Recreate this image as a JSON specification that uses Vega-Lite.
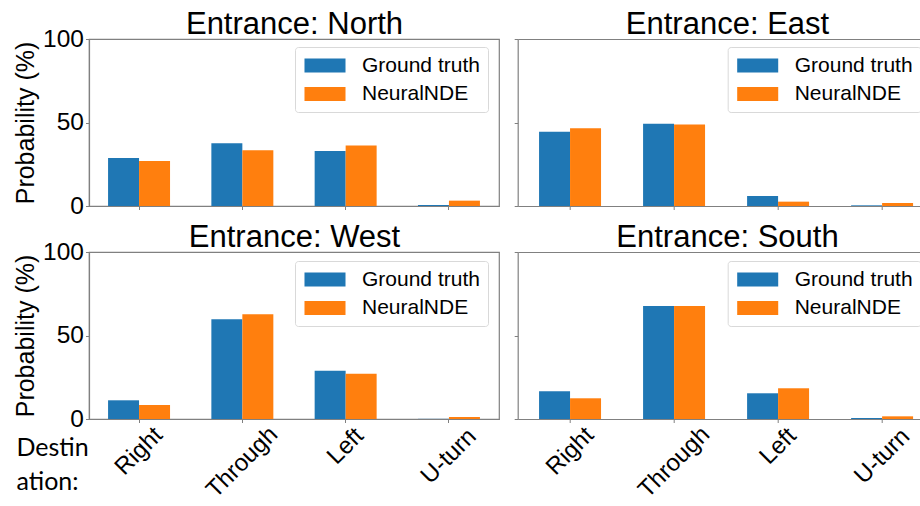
{
  "$schema": "https://vega.github.io/schema/vega-lite/v6.json",
  "padding": {"left": 13, "top": 7, "right": 0, "bottom": 0},
  "background": "white",
  "data": {
    "values": [
      {"entrance": "North", "dest": "Right", "model": "Ground truth", "value": 28.8},
      {"entrance": "North", "dest": "Right", "model": "NeuralNDE", "value": 27.0},
      {"entrance": "North", "dest": "Through", "model": "Ground truth", "value": 37.6},
      {"entrance": "North", "dest": "Through", "model": "NeuralNDE", "value": 33.4},
      {"entrance": "North", "dest": "Left", "model": "Ground truth", "value": 33.0},
      {"entrance": "North", "dest": "Left", "model": "NeuralNDE", "value": 36.2},
      {"entrance": "North", "dest": "U-turn", "model": "Ground truth", "value": 0.6},
      {"entrance": "North", "dest": "U-turn", "model": "NeuralNDE", "value": 3.2},
      {"entrance": "East", "dest": "Right", "model": "Ground truth", "value": 44.4},
      {"entrance": "East", "dest": "Right", "model": "NeuralNDE", "value": 46.6},
      {"entrance": "East", "dest": "Through", "model": "Ground truth", "value": 49.2},
      {"entrance": "East", "dest": "Through", "model": "NeuralNDE", "value": 48.8},
      {"entrance": "East", "dest": "Left", "model": "Ground truth", "value": 6.0},
      {"entrance": "East", "dest": "Left", "model": "NeuralNDE", "value": 2.6},
      {"entrance": "East", "dest": "U-turn", "model": "Ground truth", "value": 0.4},
      {"entrance": "East", "dest": "U-turn", "model": "NeuralNDE", "value": 1.8},
      {"entrance": "West", "dest": "Right", "model": "Ground truth", "value": 11.2},
      {"entrance": "West", "dest": "Right", "model": "NeuralNDE", "value": 8.4},
      {"entrance": "West", "dest": "Through", "model": "Ground truth", "value": 59.7},
      {"entrance": "West", "dest": "Through", "model": "NeuralNDE", "value": 62.7},
      {"entrance": "West", "dest": "Left", "model": "Ground truth", "value": 28.9},
      {"entrance": "West", "dest": "Left", "model": "NeuralNDE", "value": 27.1},
      {"entrance": "West", "dest": "U-turn", "model": "Ground truth", "value": 0.1},
      {"entrance": "West", "dest": "U-turn", "model": "NeuralNDE", "value": 1.2},
      {"entrance": "South", "dest": "Right", "model": "Ground truth", "value": 16.6},
      {"entrance": "South", "dest": "Right", "model": "NeuralNDE", "value": 12.4},
      {"entrance": "South", "dest": "Through", "model": "Ground truth", "value": 67.7},
      {"entrance": "South", "dest": "Through", "model": "NeuralNDE", "value": 67.6},
      {"entrance": "South", "dest": "Left", "model": "Ground truth", "value": 15.4},
      {"entrance": "South", "dest": "Left", "model": "NeuralNDE", "value": 18.4},
      {"entrance": "South", "dest": "U-turn", "model": "Ground truth", "value": 0.6},
      {"entrance": "South", "dest": "U-turn", "model": "NeuralNDE", "value": 1.6}
    ]
  },
  "columns": 2,
  "bounds": "flush",
  "spacing": {"row": 46, "column": 18.7},
  "resolve": {"scale": {"color": "independent"}},
  "concat": [
    {
      "width": 410,
      "height": 167,
      "transform": [{"filter": "datum.entrance == 'North'"}],
      "resolve": {"axis": {"x": "independent"}},
      "layer": [
        {
          "mark": {"type": "bar"},
          "encoding": {
            "x": {
              "field": "dest", "type": "nominal",
              "sort": ["Right", "Through", "Left", "U-turn"],
              "scale": {"paddingInner": 0.4, "paddingOuter": 0.1845},
              "axis": {"labels": false, "title": null}
            },
            "xOffset": {"field": "model", "type": "nominal", "sort": ["Ground truth", "NeuralNDE"]},
            "y": {
              "field": "value", "type": "quantitative",
              "scale": {"domain": [0, 100]},
              "axis": {"values": [0, 50, 100], "title": "Probability (%)"}
            },
            "color": {
              "field": "model", "type": "nominal",
              "scale": {"domain": ["Ground truth", "NeuralNDE"], "range": ["#1f77b4", "#ff7f0e"]},
              "legend": {"orient": "none", "legendX": 206, "legendY": 8}
            }
          }
        },
        {
          "mark": {"type": "bar", "opacity": 0},
          "encoding": {
            "x": {
              "field": "dest", "type": "nominal",
              "sort": ["Right", "Through", "Left", "U-turn"],
              "axis": {"orient": "top", "labels": false, "ticks": false, "title": "Entrance: North", "titleX": 205}
            }
          }
        }
      ]
    },
    {
      "width": 404,
      "height": 167,
      "view": {"stroke": null},
      "transform": [{"filter": "datum.entrance == 'East'"}],
      "resolve": {"axis": {"x": "independent"}},
      "layer": [
        {
          "mark": {"type": "bar"},
          "encoding": {
            "x": {
              "field": "dest", "type": "nominal",
              "sort": ["Right", "Through", "Left", "U-turn"],
              "scale": {"paddingInner": 0.4, "paddingOuter": 0.142, "align": 0.723},
              "axis": {"labels": false, "title": null}
            },
            "xOffset": {"field": "model", "type": "nominal", "sort": ["Ground truth", "NeuralNDE"]},
            "y": {
              "field": "value", "type": "quantitative",
              "scale": {"domain": [0, 100]},
              "axis": {"values": [0, 50, 100], "labels": false, "title": null}
            },
            "color": {
              "field": "model", "type": "nominal",
              "scale": {"domain": ["Ground truth", "NeuralNDE"], "range": ["#1f77b4", "#ff7f0e"]},
              "legend": {"orient": "none", "legendX": 210, "legendY": 8}
            }
          }
        },
        {
          "mark": {"type": "bar", "opacity": 0},
          "encoding": {
            "x": {
              "field": "dest", "type": "nominal",
              "sort": ["Right", "Through", "Left", "U-turn"],
              "axis": {"orient": "top", "labels": false, "ticks": false, "title": "Entrance: East", "titleX": 209.3}
            }
          }
        }
      ]
    },
    {
      "width": 410,
      "height": 167,
      "transform": [{"filter": "datum.entrance == 'West'"}],
      "resolve": {"axis": {"x": "independent"}},
      "layer": [
        {
          "mark": {"type": "bar"},
          "encoding": {
            "x": {
              "field": "dest", "type": "nominal",
              "sort": ["Right", "Through", "Left", "U-turn"],
              "scale": {"paddingInner": 0.4, "paddingOuter": 0.1845},
              "axis": {
                "labelAngle": -45, "labelAlign": "center", "labelBaseline": "middle",
                "labelFont": "Liberation Sans",
                "labelPadding": {
                  "condition": [
                    {"test": "datum.value == 'Through'", "value": 39.5},
                    {"test": "datum.value == 'Left'", "value": 23.5},
                    {"test": "datum.value == 'U-turn'", "value": 33.5}
                  ],
                  "value": 28.5
                },
                "title": ["Destin", "ation:"],
                "titleFont": "Lato", "titleFontSize": 25,
                "titleAnchor": "start", "titleAlign": "left", "titleBaseline": "alphabetic",
                "titleX": -73, "titleY": 36, "titleLineHeight": 34
              }
            },
            "xOffset": {"field": "model", "type": "nominal", "sort": ["Ground truth", "NeuralNDE"]},
            "y": {
              "field": "value", "type": "quantitative",
              "scale": {"domain": [0, 100]},
              "axis": {"values": [0, 50, 100], "title": "Probability (%)"}
            },
            "color": {
              "field": "model", "type": "nominal",
              "scale": {"domain": ["Ground truth", "NeuralNDE"], "range": ["#1f77b4", "#ff7f0e"]},
              "legend": {"orient": "none", "legendX": 206, "legendY": 9}
            }
          }
        },
        {
          "mark": {"type": "bar", "opacity": 0},
          "encoding": {
            "x": {
              "field": "dest", "type": "nominal",
              "sort": ["Right", "Through", "Left", "U-turn"],
              "axis": {"orient": "top", "labels": false, "ticks": false, "title": "Entrance: West", "titleX": 205}
            }
          }
        }
      ]
    },
    {
      "width": 404,
      "height": 167,
      "view": {"stroke": null},
      "transform": [{"filter": "datum.entrance == 'South'"}],
      "resolve": {"axis": {"x": "independent"}},
      "layer": [
        {
          "mark": {"type": "bar"},
          "encoding": {
            "x": {
              "field": "dest", "type": "nominal",
              "sort": ["Right", "Through", "Left", "U-turn"],
              "scale": {"paddingInner": 0.4, "paddingOuter": 0.142, "align": 0.723},
              "axis": {
                "labelAngle": -45, "labelAlign": "center", "labelBaseline": "middle",
                "labelFont": "Liberation Sans",
                "labelPadding": {
                  "condition": [
                    {"test": "datum.value == 'Through'", "value": 39.5},
                    {"test": "datum.value == 'Left'", "value": 23.5},
                    {"test": "datum.value == 'U-turn'", "value": 33.5}
                  ],
                  "value": 28.5
                },
                "title": null
              }
            },
            "xOffset": {"field": "model", "type": "nominal", "sort": ["Ground truth", "NeuralNDE"]},
            "y": {
              "field": "value", "type": "quantitative",
              "scale": {"domain": [0, 100]},
              "axis": {"values": [0, 50, 100], "labels": false, "title": null}
            },
            "color": {
              "field": "model", "type": "nominal",
              "scale": {"domain": ["Ground truth", "NeuralNDE"], "range": ["#1f77b4", "#ff7f0e"]},
              "legend": {"orient": "none", "legendX": 210, "legendY": 9}
            }
          }
        },
        {
          "mark": {"type": "bar", "opacity": 0},
          "encoding": {
            "x": {
              "field": "dest", "type": "nominal",
              "sort": ["Right", "Through", "Left", "U-turn"],
              "axis": {"orient": "top", "labels": false, "ticks": false, "title": "Entrance: South", "titleX": 209.3}
            }
          }
        }
      ]
    }
  ],
  "config": {
    "font": "Liberation Sans",
    "view": {"stroke": "#808080", "strokeWidth": 1.2},
    "axis": {
      "grid": false,
      "domainColor": "#808080",
      "domainWidth": 1.2,
      "tickColor": "#808080",
      "tickWidth": 1,
      "tickSize": 3.5,
      "labelColor": "black",
      "labelFont": "Liberation Sans",
      "labelFontSize": 24.5,
      "titleColor": "black",
      "titleFont": "Liberation Sans",
      "titleFontSize": 25,
      "titleFontWeight": "normal"
    },
    "axisY": {"labelPadding": 2, "titlePadding": 4},
    "axisX": {"labelFontSize": 24},
    "axisTop": {
      "titleFontSize": 31,
      "titleY": -6,
      "titleAlign": "center",
      "titleBaseline": "alphabetic"
    },
    "legend": {
      "title": null,
      "symbolType": "M-2.93,-1H2.93V1H-2.93Z",
      "symbolSize": 196,
      "symbolOffset": 11.5,
      "symbolStrokeWidth": 0,
      "symbolOpacity": 1,
      "labelFont": "Liberation Sans",
      "labelFontSize": 21,
      "labelColor": "black",
      "labelOffset": 26.5,
      "strokeColor": "#d9d9d9",
      "fillColor": "white",
      "cornerRadius": 3,
      "padding": 8,
      "rowPadding": 6.5
    }
  }
}
